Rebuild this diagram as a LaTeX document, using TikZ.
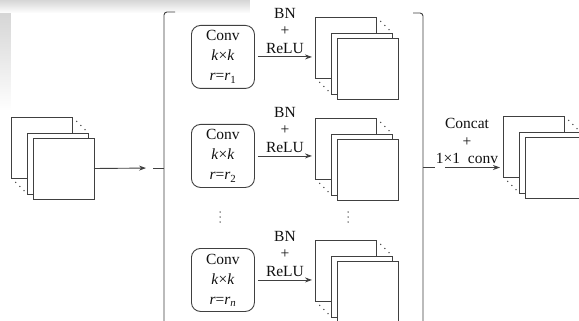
\documentclass[tikz,border=0pt]{standalone}
\usepackage{fontspec}
\setmainfont{Liberation Serif}
\usetikzlibrary{arrows.meta,calc,fadings}
\definecolor{linec}{HTML}{404040}
\definecolor{textc}{HTML}{111111}
\tikzset{
  ln/.style={draw=linec, line width=0.9pt},
  sq/.style={ln, fill=white, minimum width=61pt, minimum height=61pt,
    inner sep=0pt, outer sep=0pt, anchor=north west},
  convbox/.style={ln, rounded corners=9pt, minimum width=63pt, minimum height=63pt,
    inner sep=0pt, anchor=north west, align=center, text=textc,
    font=\fontsize{15.5}{20}\selectfont},
  arr/.style={ln, -{Stealth[length=7pt,width=5pt]}},
  lbl/.style={align=center, inner sep=0pt, text=textc,
    font=\fontsize{15.5}{17.5}\selectfont},
  dotc/.style={fill=linec},
}
% a stack of three feature maps: name, left x, top y of the rear map
\newcommand\fmapstack[3]{%
  \node[sq] (#1b) at (#2,#3) {};
  \node[sq] (#1m) at (#2+16,#3+16) {};
  \node[sq] (#1f) at (#2+22,#3+21) {};
  \foreach \t in {0.22,0.48,0.74}{
    \fill[dotc] ($(#1b.north east)!\t!(#1m.north east)+(1.2,0.8)$) circle (0.75pt);
    \fill[dotc] ($(#1b.south west)!\t!(#1m.south west)+(1.2,0.8)$) circle (0.75pt);
  }%
}
\newcommand\vdotsat[2]{%
  \foreach \d in {0,5,10}{\fill[dotc] (#1,#2+\d) circle (0.75pt);}%
}
\begin{document}
\begin{tikzpicture}[x=1pt,y=-1pt]
  \useasboundingbox (0,0) rectangle (579,321);
  \clip (0,0) rectangle (579,321);
  \fill[white] (0,0) rectangle (579,321);

  % grey smudge along the upper edge
  \fill[black!16, path fading=south] (0,0) rectangle (250,13);
  \fill[black!16, path fading=south] (0,13) rectangle (11,110);

  % input feature maps
  \fmapstack{in}{11}{117}

  % left brace
  \coordinate (lbtip) at (153,168);
  \draw[ln, rounded corners=3pt] (175,12) -- (164,12) -- (164,330);
  \draw[ln] (lbtip) -- (164,168);
  \draw[arr, shorten >=7pt] (inf.east) -- (lbtip);

  % parallel dilated convolution branches
  \node[convbox] (c1) at (191,25)
    {Conv\\\textit{k}×\textit{k}\\\textit{r}=\textit{r}\textsubscript{1}};
  \node[convbox] (c2) at (191,124)
    {Conv\\\textit{k}×\textit{k}\\\textit{r}=\textit{r}\textsubscript{2}};
  \node[convbox] (c3) at (191,248)
    {Conv\\\textit{k}×\textit{k}\\\textit{r}=\textit{r}\textsubscript{\textit{n}}};

  \fmapstack{s1}{315}{17}
  \fmapstack{s2}{315}{118}
  \fmapstack{s3}{315}{240}

  \foreach \i in {1,2,3}{
    \draw[arr, shorten <=3pt, shorten >=3pt] (c\i.east) --
      node[lbl, above=3pt] {BN\\+\\ReLU} (c\i.east -| s\i b.west);
  }

  \vdotsat{220}{212}
  \vdotsat{348}{212}

  % right brace
  \coordinate (rbtip) at (435,167.5);
  \draw[ln, rounded corners=3pt] (413,13) -- (423,13) -- (423,330);
  \draw[ln] (423,167.5) -- (rbtip);

  % fused output
  \fmapstack{out}{503}{116}
  \draw[arr, shorten <=10pt, shorten >=3pt] (rbtip) --
    node[lbl, above=3pt, xshift=-2pt] {Concat\\+\\1×1\ \ conv} (rbtip -| outb.west);
\end{tikzpicture}
\end{document}
